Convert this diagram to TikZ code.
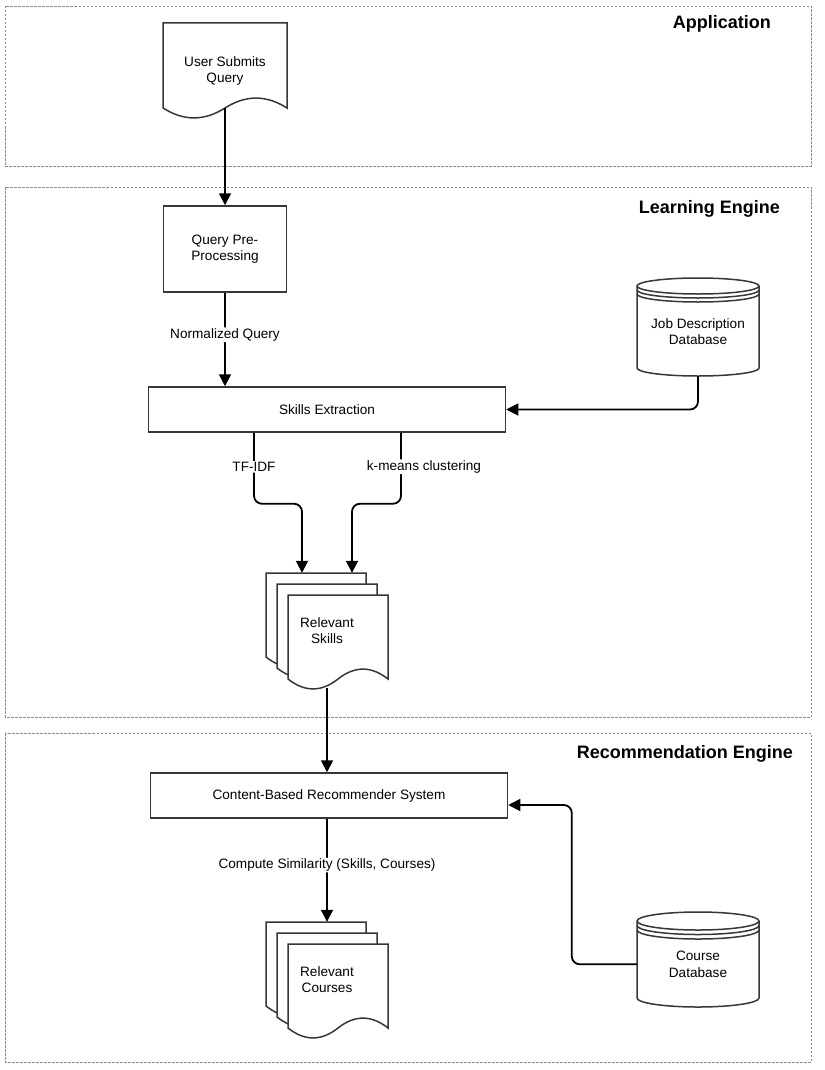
\documentclass[tikz,border=0pt]{standalone}
\usepackage{fontspec}
\setmainfont{Liberation Sans}
\usepackage{tikz}
\usetikzlibrary{
  arrows.meta,
  calc,
  positioning,
}
\definecolor{shapegray}{RGB}{55, 55, 55}
\definecolor{panelgray}{RGB}{140, 140, 140}
\tikzstyle{arrow} = [
  -{Triangle[length=12pt,width=12pt]},
  line width=1.8pt,
  black,
  rounded corners=8pt,
]
\tikzstyle{outline} = [
  draw=shapegray,
  line width=1.5pt,
  fill=white,
]
\tikzstyle{box} = [
  outline,
  align=center,
  font=\fontsize{13.6}{16.5}\selectfont,
]
\tikzstyle{txt} = [
  align=center,
  font=\fontsize{13.6}{16.5}\selectfont,
]
\tikzstyle{lbl} = [
  fill=white,
  inner sep=1pt,
  font=\fontsize{13.6}{16.5}\selectfont,
]
\tikzstyle{panel} = [
  draw=panelgray,
  line width=0.8pt,
  dash pattern=on 2.5pt off 1.5pt,
]
\tikzstyle{title} = [
  anchor=base east,
  inner sep=0pt,
  font=\fontsize{18}{21}\selectfont\bfseries,
]

% page with a wavy foot: left, top, width, height
\newcommand{\docpage}[4]{
  \draw [outline] (#1, #2) -- ({#1+#3}, #2) -- ({#1+#3}, {#2+#4-11})
    .. controls ({#1+5*#3/6}, {#2+#4-24.2}) and ({#1+2*#3/3}, {#2+#4-24.2}) .. ({#1+#3/2}, {#2+#4-11})
    .. controls ({#1+#3/3}, {#2+#4+2.2}) and ({#1+#3/6}, {#2+#4+2.2}) .. (#1, {#2+#4-11})
    -- cycle;
}

% data store: left, top, width, height, cap
\newcommand{\datastore}[5]{
  \draw [outline] (#1, {#2+#5})
    arc [start angle=180, end angle=0, x radius={#3*0.5pt}, y radius=#5pt]
    -- ({#1+#3}, {#2+#4-#5})
    arc [start angle=0, end angle=-180, x radius={#3*0.5pt}, y radius=#5pt]
    -- cycle;
  \foreach \c in {1,1.5,2} {
    \draw [outline, fill=none] (#1, {#2+\c*#5})
      arc [start angle=180, end angle=360, x radius={#3*0.5pt}, y radius=#5pt];
  }
}

\begin{document}
\begin{tikzpicture}[x=1pt, y=-1pt]

        \useasboundingbox (0,0) rectangle (824,1070);

        \foreach \t/\b in {6/166, 187/717, 733/1062} {
          \draw [panel] (5, \t) rectangle (811, \b);
        }

        \node [title] (app) at (771, 29) {Application};
        \node [title] (learn) at (780, 213) {Learning Engine};
        \node [title] (recom) at (793, 758) {Recommendation Engine};

        %% shapes
        \docpage{163}{23}{124}{96}

        \foreach \k in {0,1,2} {
          \docpage{266+11*\k}{573+11*\k}{100}{95}
          \docpage{266+11*\k}{922+11*\k}{100}{95}
        }

        \datastore{637}{278}{122}{98}{8}
        \datastore{637}{912}{122}{95}{9}

        %% nodes
        \node [txt, minimum width=124pt, minimum height=96pt] (query) at (225, 71) {User Submits\\Query};
        \coordinate (query-out) at (225, 108);

        \node [box, minimum width=123pt, minimum height=86pt] (prep) at (225, 249) {Query Pre-\\Processing};

        \node [box, minimum width=357pt, minimum height=45pt] (skills) at (327, 409.5) {Skills Extraction};

        \node [txt, minimum width=122pt, minimum height=88pt, anchor=south] (jobdb) at (698, 376) {Job Description\\Database};

        \node [txt, minimum width=122pt, minimum height=115pt] (relskills) at (327, 630.5) {Relevant\\Skills};

        \node [box, minimum width=357pt, minimum height=45pt] (recsys) at (329, 795.5) {Content-Based Recommender System};

        \node [txt, minimum width=122pt, minimum height=115pt] (relcourses) at (327, 979.5) {Relevant\\Courses};

        \node [txt, minimum width=122pt, minimum height=85pt, anchor=south] (coursedb) at (698, 1007) {Course\\Database};

        %% connectors
        \draw [arrow] (query-out) -- (prep.north);

        \draw [arrow] (prep.south) -- node [lbl, pos=0.45] (lbl-norm) {Normalized Query} (prep.south |- skills.north);

        \draw [arrow] (jobdb.south) |- (skills.east);

        \draw [arrow] ([xshift=-73pt]skills.south) -- node [lbl, pos=0.48] (lbl-tfidf) {TF-IDF} ++(0,71) -| ([xshift=-25pt]relskills.north);

        \draw [arrow] ([xshift=74pt]skills.south) -- node [lbl, pos=0.48, xshift=23pt] (lbl-kmeans) {k-means clustering} ++(0,71) -| ([xshift=25pt]relskills.north);

        \draw [arrow] (relskills.south) -- (relskills.south |- recsys.north);

        \draw [arrow] (recsys.south -| relcourses.north) -- node [lbl, pos=0.45] (lbl-sim) {Compute Similarity (Skills, Courses)} (relcourses.north);

        \draw [arrow] (coursedb.west) -- ++(-65,0) |- ([yshift=-9.5pt]recsys.east);

      \end{tikzpicture}
\end{document}
